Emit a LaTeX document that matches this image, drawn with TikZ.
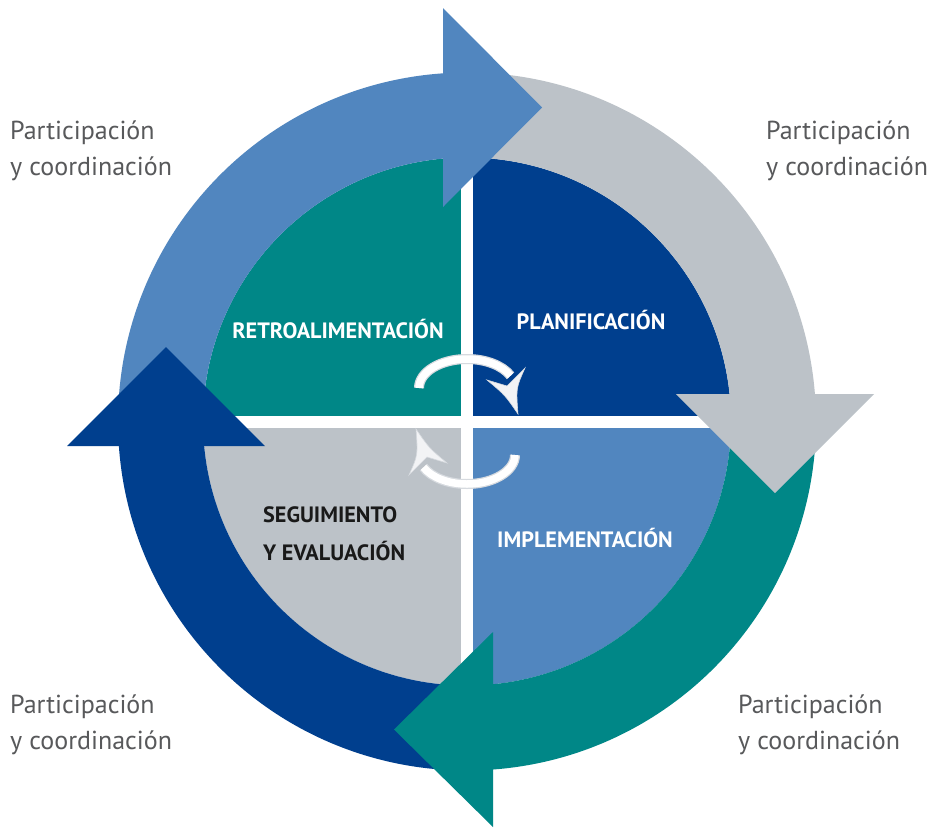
\documentclass[tikz,border=0pt]{standalone}
\usepackage{fontspec}
\setmainfont{PT Sans}
\definecolor{cteal}{RGB}{0,135,135}
\definecolor{cdark}{RGB}{0,63,142}
\definecolor{clight}{RGB}{81,134,191}
\definecolor{cgray}{RGB}{188,194,200}
\definecolor{labgray}{RGB}{88,89,91}
\definecolor{arrwhite}{RGB}{242,243,245}
\definecolor{arrshadow}{RGB}{214,218,223}
\begin{document}
\begin{tikzpicture}[x=1pt,y=-1pt,
  band/.style={line width=85pt},
  qlabel/.style={font=\bfseries\fontsize{22.2}{38}\selectfont, text=white, inner sep=0pt},
  plabel/.style={font=\fontsize{26}{36}\selectfont, text=labgray, align=left, inner sep=0pt}]
\useasboundingbox (0,0) rectangle (930,828);
\fill[white] (0,0) rectangle (930,828);
\coordinate (C) at (467,421.5);
% quadrants
\fill[cteal] (C) -- ++(180:264) arc[start angle=180,end angle=270,radius=264] -- cycle;
\fill[cdark] (C) -- ++(270:264) arc[start angle=270,end angle=360,radius=264] -- cycle;
\fill[clight] (C) -- ++(0:264) arc[start angle=0,end angle=90,radius=264] -- cycle;
\fill[cgray] (C) -- ++(90:264) arc[start angle=90,end angle=180,radius=264] -- cycle;
% white cross
\fill[white] (461,157.5) rectangle (473,685.5);
\fill[white] (203,415.5) rectangle (731,427.5);
% ring bands
\draw[band, clight] (C) ++(180:306.5) arc[start angle=180,end angle=267,radius=306.5];
\draw[band, cgray] (C) ++(270:306.5) arc[start angle=270,end angle=356,radius=306.5];
\draw[band, cteal] (C) ++(0:306.5) arc[start angle=0,end angle=86.5,radius=306.5];
\draw[band, cdark] (C) ++(90:306.5) arc[start angle=90,end angle=176.5,radius=306.5];
% arrowheads
\fill[clight] (443,8) -- (542,107.5) -- (443,207) -- cycle;
\fill[cgray] (676,394) -- (874,394) -- (775,493) -- cycle;
\fill[cteal] (493,632) -- (493,827) -- (394,729.5) -- cycle;
\fill[cdark] (67,446) -- (265,446) -- (166,347) -- cycle;
% centre arrows
\foreach \r in {0,180}{
\begin{scope}[rotate around={\r:(C)}]
\draw[arrshadow, line width=10pt] (419,388) arc[start angle=180,end angle=335,x radius=48,y radius=29];
\draw[white, line width=7.5pt] (419,388) arc[start angle=180,end angle=335,x radius=48,y radius=29];
\fill[arrwhite, draw=arrshadow, line width=0.6pt] (487,380) -- (507,386) -- (525,368) .. controls (516,388) .. (518,414) .. controls (505,395) .. (487,380) -- cycle;
\end{scope}
}
% quadrant labels
\node[qlabel, anchor=base] (retro) at (338,338) {RETROALIMENTACIÓN};
\node[qlabel, anchor=base] (plan) at (591,329) {PLANIFICACIÓN};
\node[qlabel, anchor=base] (impl) at (585,547) {IMPLEMENTACIÓN};
\node[qlabel, text=black!90, align=left, anchor=base west] (segu) at (263,560) {SEGUIMIENTO\\Y EVALUACIÓN};
% outer labels
\node[plabel, anchor=base west] (ptl) at (10,175) {Participación\\y coordinación};
\node[plabel, anchor=base west] (ptr) at (766,175) {Participación\\y coordinación};
\node[plabel, anchor=base west] (pbl) at (10,749) {Participación\\y coordinación};
\node[plabel, anchor=base west] (pbr) at (738,749) {Participación\\y coordinación};
\end{tikzpicture}
\end{document}
